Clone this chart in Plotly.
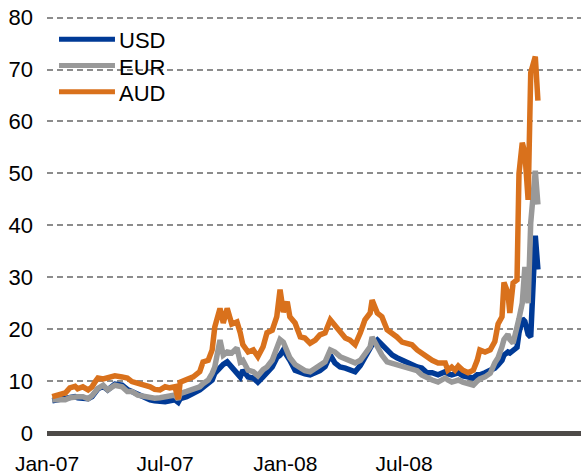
"""Implied FX volatility vs. the yen, Jan-07 to late 2008."""

import plotly.graph_objects as go

# days since 1-Jan-2007
days = [
    8, 17, 28, 35, 43, 47, 55, 63, 69, 74, 78, 86, 93, 104, 115, 123, 130, 139, 150, 158,
    165, 173, 181, 188, 196, 201, 204, 214, 224, 234, 239, 247, 253, 257, 265, 270, 276, 283, 291, 296,
    300, 308, 316, 323, 331, 337, 345, 352, 357, 362, 368, 372, 380, 388, 395, 403, 411, 418, 426, 434,
    441, 449, 457, 464, 472, 480, 487, 495, 498, 506, 513, 521, 529, 536, 544, 552, 559, 567, 574, 582,
    590, 599, 610, 614, 620, 625, 630, 637, 645, 653, 659, 663, 671, 679, 686, 691, 697, 700, 706, 709,
    714, 720, 723, 728, 732, 737, 741, 748, 752,
]

usd = [
    6.2, 6.4, 6.4, 6.8, 7.0, 6.8, 6.6, 6.6, 7.0, 7.8, 8.5, 9.0, 8.3, 9.4, 9.2, 8.4, 8.0, 7.2, 6.8, 6.4,
    6.2, 6.0, 6.0, 6.2, 6.4, 5.9, 6.6, 7.0, 7.6, 8.3, 8.8, 9.5, 10.2, 11.5, 12.7, 13.2, 13.7, 12.7, 11.5, 10.8,
    12.1, 10.8, 10.6, 9.8, 10.8, 11.5, 12.7, 14.5, 15.0, 16.0, 15.0, 14.0, 12.1, 11.6, 11.4, 11.2, 11.6, 12.0, 12.8, 15.0,
    13.5, 12.7, 12.5, 12.1, 11.8, 13.0, 14.5, 16.4, 17.0, 17.9, 17.0, 16.0, 15.0, 14.5, 14.0, 13.5, 13.1, 12.7, 12.5, 11.6,
    11.6, 11.2, 11.8, 11.4, 11.2, 11.4, 11.6, 11.0, 10.8, 10.6, 11.2, 11.2, 11.6, 12.0, 12.5, 13.1, 14.0, 15.0, 15.6, 15.4,
    15.8, 16.5, 19.3, 22.0, 21.5, 19.0, 18.5, 38.0, 31.5,
]

eur = [
    6.4, 6.5, 6.4, 6.8, 7.0, 7.0, 7.0, 6.6, 7.2, 8.0, 8.6, 9.2, 8.3, 9.2, 8.9, 8.0, 8.0, 7.3, 7.0, 7.0,
    6.7, 6.8, 7.0, 7.1, 7.3, 6.5, 7.6, 8.0, 8.4, 8.9, 9.5, 10.2, 11.5, 12.7, 17.9, 15.0, 15.6, 15.4, 16.4, 13.7,
    14.0, 12.1, 11.8, 11.0, 12.2, 12.7, 14.0, 16.6, 18.0, 17.5, 16.0, 14.5, 13.2, 12.5, 12.0, 11.8, 12.5, 13.1, 13.7, 16.0,
    15.6, 14.7, 14.2, 14.0, 13.5, 14.0, 15.4, 16.6, 18.5, 16.6, 15.0, 13.7, 13.4, 13.1, 12.7, 12.5, 12.2, 12.0, 11.2, 10.6,
    10.2, 9.8, 10.6, 10.2, 9.8, 10.0, 10.2, 9.8, 9.6, 9.2, 10.0, 10.4, 10.8, 11.5, 13.5, 14.5, 16.6, 18.0, 19.0, 18.0,
    17.3, 21.2, 22.0, 25.0, 32.0, 25.0, 40.5, 50.5, 44.0,
]

aud = [
    7.0, 7.3, 7.7, 8.7, 9.0, 8.5, 8.9, 8.3, 8.9, 9.9, 10.6, 10.4, 10.6, 11.0, 10.8, 10.6, 9.9, 9.6, 9.2, 8.9,
    8.4, 8.3, 8.9, 8.7, 8.9, 6.5, 9.8, 10.2, 10.8, 11.8, 13.7, 14.0, 16.0, 20.4, 24.0, 21.2, 24.0, 21.0, 21.4, 19.3,
    17.0, 15.6, 16.0, 14.7, 16.6, 19.3, 19.8, 22.4, 27.6, 23.3, 25.3, 22.4, 21.2, 18.5, 18.3, 17.3, 17.9, 18.9, 19.3, 21.8,
    20.6, 19.5, 18.3, 17.9, 17.0, 19.3, 21.8, 23.1, 25.6, 23.1, 22.4, 19.9, 19.3, 18.5, 17.5, 17.3, 17.0, 16.0, 15.4, 14.5,
    14.0, 13.5, 13.5, 12.1, 12.7, 12.1, 12.9, 12.1, 11.6, 12.1, 14.0, 16.0, 15.6, 16.0, 17.6, 21.0, 22.4, 29.0, 27.0, 23.1,
    28.9, 29.5, 50.0, 55.9, 54.0, 44.9, 69.4, 72.5, 64.0,
]

tick_days = [0, 181, 365, 547]
tick_labels = ["Jan-07", "Jul-07", "Jan-08", "Jul-08"]

series = [
    ("USD", usd, "#003a96"),
    ("EUR", eur, "#999999"),
    ("AUD", aud, "#d9711c"),
]

fig = go.Figure()
for name, values, color in series:
    fig.add_trace(
        go.Scatter(
            x=days,
            y=values,
            mode="lines",
            name=name,
            line=dict(color=color, width=5.5),
        )
    )

# legend drawn by hand so the sample lines can be as long as in the original
for i, (name, _, color) in enumerate(series):
    y_line = 0.942 - i * 0.0627
    fig.add_shape(
        type="line",
        xref="paper",
        yref="paper",
        x0=0.0225,
        x1=0.1273,
        y0=y_line,
        y1=y_line,
        line=dict(color=color, width=5),
    )
    fig.add_annotation(
        xref="paper",
        yref="paper",
        x=0.131,
        y=y_line - 0.004,
        xanchor="left",
        yanchor="middle",
        text=name,
        showarrow=False,
        font=dict(size=22),
    )

fig.update_layout(
    width=581,
    height=476,
    margin=dict(l=47, r=0, t=15, b=43),
    paper_bgcolor="white",
    plot_bgcolor="white",
    font=dict(family="Liberation Sans, Arial, sans-serif", size=21, color="black"),
    showlegend=False,
)
fig.update_xaxes(
    range=[0, 818],
    tickmode="array",
    tickvals=tick_days,
    ticktext=tick_labels,
    showgrid=False,
    zeroline=False,
    showline=False,
    ticks="",
    ticklabelstandoff=16,
    automargin=False,
)
fig.update_yaxes(
    range=[0, 80.5],
    tickvals=[0, 10, 20, 30, 40, 50, 60, 70, 80],
    tickfont=dict(size=22),
    showgrid=True,
    gridcolor="#8c8c8c",
    gridwidth=1.5,
    griddash="6px,4px",
    zeroline=True,
    zerolinecolor="#4d4a48",
    zerolinewidth=5,
    showline=False,
    ticks="",
    ticklabelstandoff=13,
    automargin=False,
)

# drop the browser's default page margin so the figure fills the window exactly
fig.write_html(
    "out.html",
    config={"displayModeBar": False},
    post_script="document.body.style.margin='0';document.body.style.overflow='hidden';",
)
